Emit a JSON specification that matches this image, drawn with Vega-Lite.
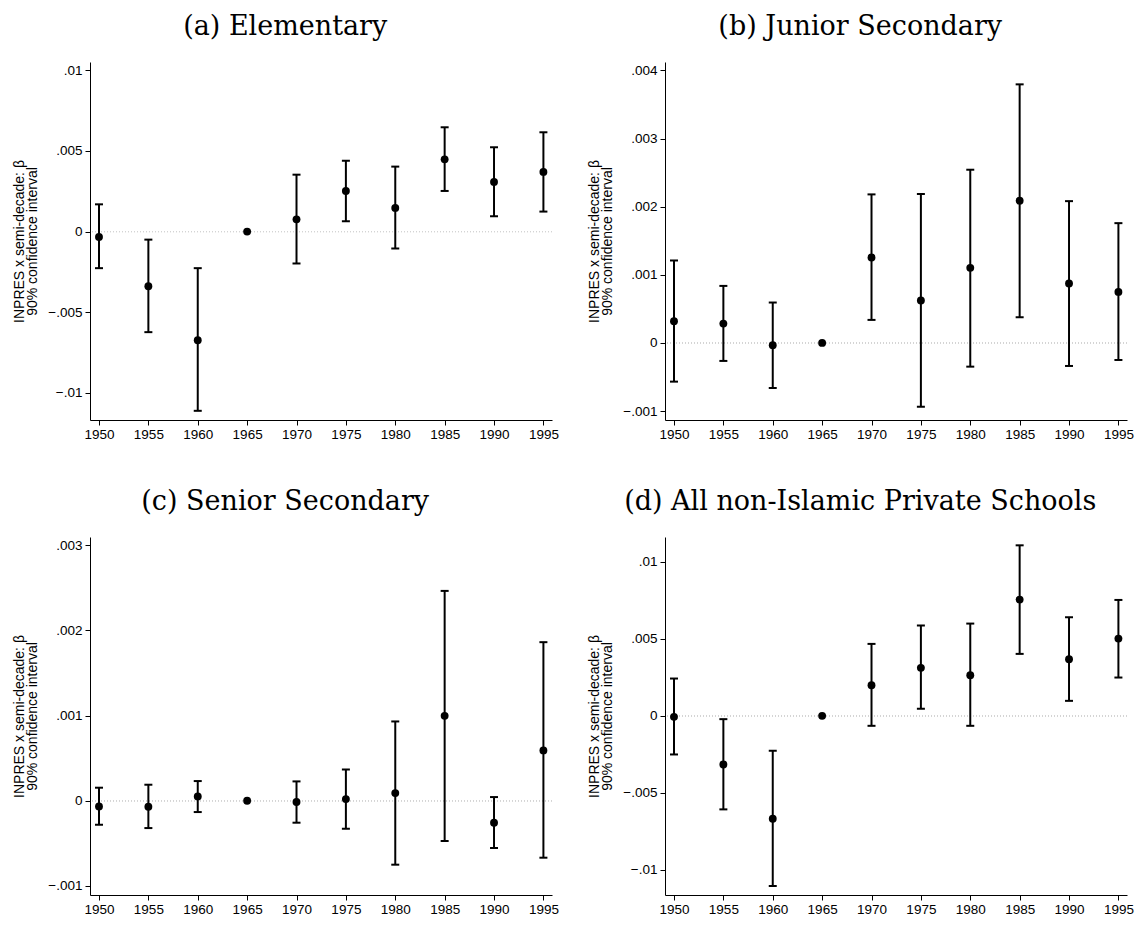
{
  "$schema": "https://vega.github.io/schema/vega-lite/v6.json",
  "background": "white",
  "padding": {"left": 12, "top": 13, "right": 5, "bottom": 5},
  "columns": 2,
  "spacing": {"row": 47, "column": 28},
  "datasets": {
    "elem": [
      {"year": 1950, "b": -0.00033, "lo": -0.00227, "hi": 0.00169},
      {"year": 1955, "b": -0.00339, "lo": -0.00624, "hi": -0.0005},
      {"year": 1960, "b": -0.00674, "lo": -0.01112, "hi": -0.00227},
      {"year": 1965, "b": 0, "lo": null, "hi": null},
      {"year": 1970, "b": 0.00076, "lo": -0.00198, "hi": 0.00353},
      {"year": 1975, "b": 0.00252, "lo": 0.00064, "hi": 0.0044},
      {"year": 1980, "b": 0.00147, "lo": -0.00105, "hi": 0.00403},
      {"year": 1985, "b": 0.00448, "lo": 0.00252, "hi": 0.00647},
      {"year": 1990, "b": 0.00308, "lo": 0.00095, "hi": 0.00523},
      {"year": 1995, "b": 0.0037, "lo": 0.00124, "hi": 0.00616}
    ],
    "junior": [
      {"year": 1950, "b": 0.000318, "lo": -0.000568, "hi": 0.00121},
      {"year": 1955, "b": 0.000284, "lo": -0.000264, "hi": 0.000837},
      {"year": 1960, "b": -0.000034, "lo": -0.000661, "hi": 0.000593},
      {"year": 1965, "b": 0, "lo": null, "hi": null},
      {"year": 1970, "b": 0.001254, "lo": 0.000338, "hi": 0.00218},
      {"year": 1975, "b": 0.000622, "lo": -0.000935, "hi": 0.002184},
      {"year": 1980, "b": 0.001102, "lo": -0.000348, "hi": 0.002542},
      {"year": 1985, "b": 0.002086, "lo": 0.000377, "hi": 0.003795},
      {"year": 1990, "b": 0.000872, "lo": -0.000338, "hi": 0.002081},
      {"year": 1995, "b": 0.000749, "lo": -0.00025, "hi": 0.001758}
    ],
    "senior": [
      {"year": 1950, "b": -0.0000665, "lo": -0.000282, "hi": 0.000153},
      {"year": 1955, "b": -0.00007, "lo": -0.000321, "hi": 0.000188},
      {"year": 1960, "b": 0.0000508, "lo": -0.000133, "hi": 0.000231},
      {"year": 1965, "b": 0, "lo": null, "hi": null},
      {"year": 1970, "b": -0.0000156, "lo": -0.000258, "hi": 0.000227},
      {"year": 1975, "b": 0.0000196, "lo": -0.000329, "hi": 0.000368},
      {"year": 1980, "b": 0.00009, "lo": -0.000751, "hi": 0.000931},
      {"year": 1985, "b": 0.000997, "lo": -0.000473, "hi": 0.002464},
      {"year": 1990, "b": -0.000258, "lo": -0.000555, "hi": 0.000043},
      {"year": 1995, "b": 0.000591, "lo": -0.000669, "hi": 0.001862}
    ],
    "allpriv": [
      {"year": 1950, "b": -0.000065, "lo": -0.002511, "hi": 0.002424},
      {"year": 1955, "b": -0.00316, "lo": -0.00608, "hi": -0.000216},
      {"year": 1960, "b": -0.00669, "lo": -0.01106, "hi": -0.00227},
      {"year": 1965, "b": 0, "lo": null, "hi": null},
      {"year": 1970, "b": 0.00199, "lo": -0.000649, "hi": 0.004675},
      {"year": 1975, "b": 0.003117, "lo": 0.000455, "hi": 0.005866},
      {"year": 1980, "b": 0.002641, "lo": -0.000649, "hi": 0.005996},
      {"year": 1985, "b": 0.007554, "lo": 0.004026, "hi": 0.011082},
      {"year": 1990, "b": 0.00368, "lo": 0.000974, "hi": 0.006407},
      {"year": 1995, "b": 0.005022, "lo": 0.002489, "hi": 0.007532}
    ]
  },
  "concat": [
    {
      "title": "(a) Elementary",
      "width": 462, "height": 358,
      "data": {"name": "elem"},
      "encoding": {
        "x": {"field": "year", "type": "quantitative", "title": null,
              "scale": {"domain": [1949.09, 1995.87], "nice": false, "zero": false},
              "axis": {"values": [1950, 1955, 1960, 1965, 1970, 1975, 1980, 1985, 1990, 1995], "format": "d"}}
      },
      "layer": [
        {"mark": {"type": "rule", "color": "#d4d4d4", "strokeDash": [1, 2], "strokeWidth": 1},
         "encoding": {"x": null, "y": {"datum": 0, "type": "quantitative", "scale": {"domain": [-0.01169, 0.01052], "nice": false, "zero": false}, "axis": {"values": [-0.01, -0.005, 0, 0.005, 0.01], "labelExpr": "replace(format(datum.value, '~g'), '0.', '.')", "title": ["INPRES x semi-decade: β", "90% confidence interval"]}}}},
        {"transform": [{"filter": "isValid(datum.lo)"}],
         "mark": {"type": "rule", "color": "black", "strokeWidth": 2},
         "encoding": {"y": {"field": "lo", "type": "quantitative", "scale": {"domain": [-0.01169, 0.01052], "nice": false, "zero": false}, "axis": {"values": [-0.01, -0.005, 0, 0.005, 0.01], "labelExpr": "replace(format(datum.value, '~g'), '0.', '.')", "title": ["INPRES x semi-decade: β", "90% confidence interval"]}}, "y2": {"field": "hi"}}},
        {"transform": [{"filter": "isValid(datum.lo)"}],
         "mark": {"type": "tick", "orient": "horizontal", "color": "black", "size": 8, "thickness": 2, "opacity": 1},
         "encoding": {"y": {"field": "lo", "type": "quantitative", "scale": {"domain": [-0.01169, 0.01052], "nice": false, "zero": false}, "axis": {"values": [-0.01, -0.005, 0, 0.005, 0.01], "labelExpr": "replace(format(datum.value, '~g'), '0.', '.')", "title": ["INPRES x semi-decade: β", "90% confidence interval"]}}}},
        {"transform": [{"filter": "isValid(datum.hi)"}],
         "mark": {"type": "tick", "orient": "horizontal", "color": "black", "size": 8, "thickness": 2, "opacity": 1},
         "encoding": {"y": {"field": "hi", "type": "quantitative", "scale": {"domain": [-0.01169, 0.01052], "nice": false, "zero": false}, "axis": {"values": [-0.01, -0.005, 0, 0.005, 0.01], "labelExpr": "replace(format(datum.value, '~g'), '0.', '.')", "title": ["INPRES x semi-decade: β", "90% confidence interval"]}}}},
        {"mark": {"type": "circle", "color": "black", "size": 62, "opacity": 1},
         "encoding": {"y": {"field": "b", "type": "quantitative", "scale": {"domain": [-0.01169, 0.01052], "nice": false, "zero": false}, "axis": {"values": [-0.01, -0.005, 0, 0.005, 0.01], "labelExpr": "replace(format(datum.value, '~g'), '0.', '.')", "title": ["INPRES x semi-decade: β", "90% confidence interval"]}}}}
      ]
    },
    {
      "title": "(b) Junior Secondary",
      "width": 462, "height": 358,
      "data": {"name": "junior"},
      "encoding": {
        "x": {"field": "year", "type": "quantitative", "title": null,
              "scale": {"domain": [1949.09, 1995.87], "nice": false, "zero": false},
              "axis": {"values": [1950, 1955, 1960, 1965, 1970, 1975, 1980, 1985, 1990, 1995], "format": "d"}}
      },
      "layer": [
        {"mark": {"type": "rule", "color": "#d4d4d4", "strokeDash": [1, 2], "strokeWidth": 1},
         "encoding": {"x": null, "y": {"datum": 0, "type": "quantitative", "scale": {"domain": [-0.001131, 0.004123], "nice": false, "zero": false}, "axis": {"values": [-0.001, 0, 0.001, 0.002, 0.003, 0.004], "labelExpr": "replace(format(datum.value, '~g'), '0.', '.')", "title": ["INPRES x semi-decade: β", "90% confidence interval"]}}}},
        {"transform": [{"filter": "isValid(datum.lo)"}],
         "mark": {"type": "rule", "color": "black", "strokeWidth": 2},
         "encoding": {"y": {"field": "lo", "type": "quantitative", "scale": {"domain": [-0.001131, 0.004123], "nice": false, "zero": false}, "axis": {"values": [-0.001, 0, 0.001, 0.002, 0.003, 0.004], "labelExpr": "replace(format(datum.value, '~g'), '0.', '.')", "title": ["INPRES x semi-decade: β", "90% confidence interval"]}}, "y2": {"field": "hi"}}},
        {"transform": [{"filter": "isValid(datum.lo)"}],
         "mark": {"type": "tick", "orient": "horizontal", "color": "black", "size": 8, "thickness": 2, "opacity": 1},
         "encoding": {"y": {"field": "lo", "type": "quantitative", "scale": {"domain": [-0.001131, 0.004123], "nice": false, "zero": false}, "axis": {"values": [-0.001, 0, 0.001, 0.002, 0.003, 0.004], "labelExpr": "replace(format(datum.value, '~g'), '0.', '.')", "title": ["INPRES x semi-decade: β", "90% confidence interval"]}}}},
        {"transform": [{"filter": "isValid(datum.hi)"}],
         "mark": {"type": "tick", "orient": "horizontal", "color": "black", "size": 8, "thickness": 2, "opacity": 1},
         "encoding": {"y": {"field": "hi", "type": "quantitative", "scale": {"domain": [-0.001131, 0.004123], "nice": false, "zero": false}, "axis": {"values": [-0.001, 0, 0.001, 0.002, 0.003, 0.004], "labelExpr": "replace(format(datum.value, '~g'), '0.', '.')", "title": ["INPRES x semi-decade: β", "90% confidence interval"]}}}},
        {"mark": {"type": "circle", "color": "black", "size": 62, "opacity": 1},
         "encoding": {"y": {"field": "b", "type": "quantitative", "scale": {"domain": [-0.001131, 0.004123], "nice": false, "zero": false}, "axis": {"values": [-0.001, 0, 0.001, 0.002, 0.003, 0.004], "labelExpr": "replace(format(datum.value, '~g'), '0.', '.')", "title": ["INPRES x semi-decade: β", "90% confidence interval"]}}}}
      ]
    },
    {
      "title": "(c) Senior Secondary",
      "width": 462, "height": 358,
      "data": {"name": "senior"},
      "encoding": {
        "x": {"field": "year", "type": "quantitative", "title": null,
              "scale": {"domain": [1949.09, 1995.87], "nice": false, "zero": false},
              "axis": {"values": [1950, 1955, 1960, 1965, 1970, 1975, 1980, 1985, 1990, 1995], "format": "d"}}
      },
      "layer": [
        {"mark": {"type": "rule", "color": "#d4d4d4", "strokeDash": [1, 2], "strokeWidth": 1},
         "encoding": {"x": null, "y": {"datum": 0, "type": "quantitative", "scale": {"domain": [-0.001107, 0.003097], "nice": false, "zero": false}, "axis": {"values": [-0.001, 0, 0.001, 0.002, 0.003], "labelExpr": "replace(format(datum.value, '~g'), '0.', '.')", "title": ["INPRES x semi-decade: β", "90% confidence interval"]}}}},
        {"transform": [{"filter": "isValid(datum.lo)"}],
         "mark": {"type": "rule", "color": "black", "strokeWidth": 2},
         "encoding": {"y": {"field": "lo", "type": "quantitative", "scale": {"domain": [-0.001107, 0.003097], "nice": false, "zero": false}, "axis": {"values": [-0.001, 0, 0.001, 0.002, 0.003], "labelExpr": "replace(format(datum.value, '~g'), '0.', '.')", "title": ["INPRES x semi-decade: β", "90% confidence interval"]}}, "y2": {"field": "hi"}}},
        {"transform": [{"filter": "isValid(datum.lo)"}],
         "mark": {"type": "tick", "orient": "horizontal", "color": "black", "size": 8, "thickness": 2, "opacity": 1},
         "encoding": {"y": {"field": "lo", "type": "quantitative", "scale": {"domain": [-0.001107, 0.003097], "nice": false, "zero": false}, "axis": {"values": [-0.001, 0, 0.001, 0.002, 0.003], "labelExpr": "replace(format(datum.value, '~g'), '0.', '.')", "title": ["INPRES x semi-decade: β", "90% confidence interval"]}}}},
        {"transform": [{"filter": "isValid(datum.hi)"}],
         "mark": {"type": "tick", "orient": "horizontal", "color": "black", "size": 8, "thickness": 2, "opacity": 1},
         "encoding": {"y": {"field": "hi", "type": "quantitative", "scale": {"domain": [-0.001107, 0.003097], "nice": false, "zero": false}, "axis": {"values": [-0.001, 0, 0.001, 0.002, 0.003], "labelExpr": "replace(format(datum.value, '~g'), '0.', '.')", "title": ["INPRES x semi-decade: β", "90% confidence interval"]}}}},
        {"mark": {"type": "circle", "color": "black", "size": 62, "opacity": 1},
         "encoding": {"y": {"field": "b", "type": "quantitative", "scale": {"domain": [-0.001107, 0.003097], "nice": false, "zero": false}, "axis": {"values": [-0.001, 0, 0.001, 0.002, 0.003], "labelExpr": "replace(format(datum.value, '~g'), '0.', '.')", "title": ["INPRES x semi-decade: β", "90% confidence interval"]}}}}
      ]
    },
    {
      "title": "(d) All non-Islamic Private Schools",
      "width": 462, "height": 358,
      "data": {"name": "allpriv"},
      "encoding": {
        "x": {"field": "year", "type": "quantitative", "title": null,
              "scale": {"domain": [1949.09, 1995.87], "nice": false, "zero": false},
              "axis": {"values": [1950, 1955, 1960, 1965, 1970, 1975, 1980, 1985, 1990, 1995], "format": "d"}}
      },
      "layer": [
        {"mark": {"type": "rule", "color": "#d4d4d4", "strokeDash": [1, 2], "strokeWidth": 1},
         "encoding": {"x": null, "y": {"datum": 0, "type": "quantitative", "scale": {"domain": [-0.011645, 0.011623], "nice": false, "zero": false}, "axis": {"values": [-0.01, -0.005, 0, 0.005, 0.01], "labelExpr": "replace(format(datum.value, '~g'), '0.', '.')", "title": ["INPRES x semi-decade: β", "90% confidence interval"]}}}},
        {"transform": [{"filter": "isValid(datum.lo)"}],
         "mark": {"type": "rule", "color": "black", "strokeWidth": 2},
         "encoding": {"y": {"field": "lo", "type": "quantitative", "scale": {"domain": [-0.011645, 0.011623], "nice": false, "zero": false}, "axis": {"values": [-0.01, -0.005, 0, 0.005, 0.01], "labelExpr": "replace(format(datum.value, '~g'), '0.', '.')", "title": ["INPRES x semi-decade: β", "90% confidence interval"]}}, "y2": {"field": "hi"}}},
        {"transform": [{"filter": "isValid(datum.lo)"}],
         "mark": {"type": "tick", "orient": "horizontal", "color": "black", "size": 8, "thickness": 2, "opacity": 1},
         "encoding": {"y": {"field": "lo", "type": "quantitative", "scale": {"domain": [-0.011645, 0.011623], "nice": false, "zero": false}, "axis": {"values": [-0.01, -0.005, 0, 0.005, 0.01], "labelExpr": "replace(format(datum.value, '~g'), '0.', '.')", "title": ["INPRES x semi-decade: β", "90% confidence interval"]}}}},
        {"transform": [{"filter": "isValid(datum.hi)"}],
         "mark": {"type": "tick", "orient": "horizontal", "color": "black", "size": 8, "thickness": 2, "opacity": 1},
         "encoding": {"y": {"field": "hi", "type": "quantitative", "scale": {"domain": [-0.011645, 0.011623], "nice": false, "zero": false}, "axis": {"values": [-0.01, -0.005, 0, 0.005, 0.01], "labelExpr": "replace(format(datum.value, '~g'), '0.', '.')", "title": ["INPRES x semi-decade: β", "90% confidence interval"]}}}},
        {"mark": {"type": "circle", "color": "black", "size": 62, "opacity": 1},
         "encoding": {"y": {"field": "b", "type": "quantitative", "scale": {"domain": [-0.011645, 0.011623], "nice": false, "zero": false}, "axis": {"values": [-0.01, -0.005, 0, 0.005, 0.01], "labelExpr": "replace(format(datum.value, '~g'), '0.', '.')", "title": ["INPRES x semi-decade: β", "90% confidence interval"]}}}}
      ]
    }
  ],
  "config": {
    "view": {"stroke": null},
    "title": {"font": "DejaVu Serif", "fontSize": 27, "fontWeight": "normal", "color": "black", "anchor": "middle", "frame": "bounds", "offset": 21},
    "axis": {"grid": false, "domainColor": "black", "domainWidth": 1, "tickColor": "black", "tickSize": 5, "tickWidth": 1,
             "labelFont": "Liberation Sans", "labelFontSize": 13.5, "labelColor": "black",
             "titleFont": "Liberation Sans", "titleFontSize": 14, "titleFontWeight": "normal", "titleColor": "black"},
    "axisX": {"labelPadding": 2, "labelFlush": false},
    "axisY": {"labelPadding": 3, "minExtent": 40, "maxExtent": 40, "titlePadding": 11, "titleLineHeight": 13}
  }
}
